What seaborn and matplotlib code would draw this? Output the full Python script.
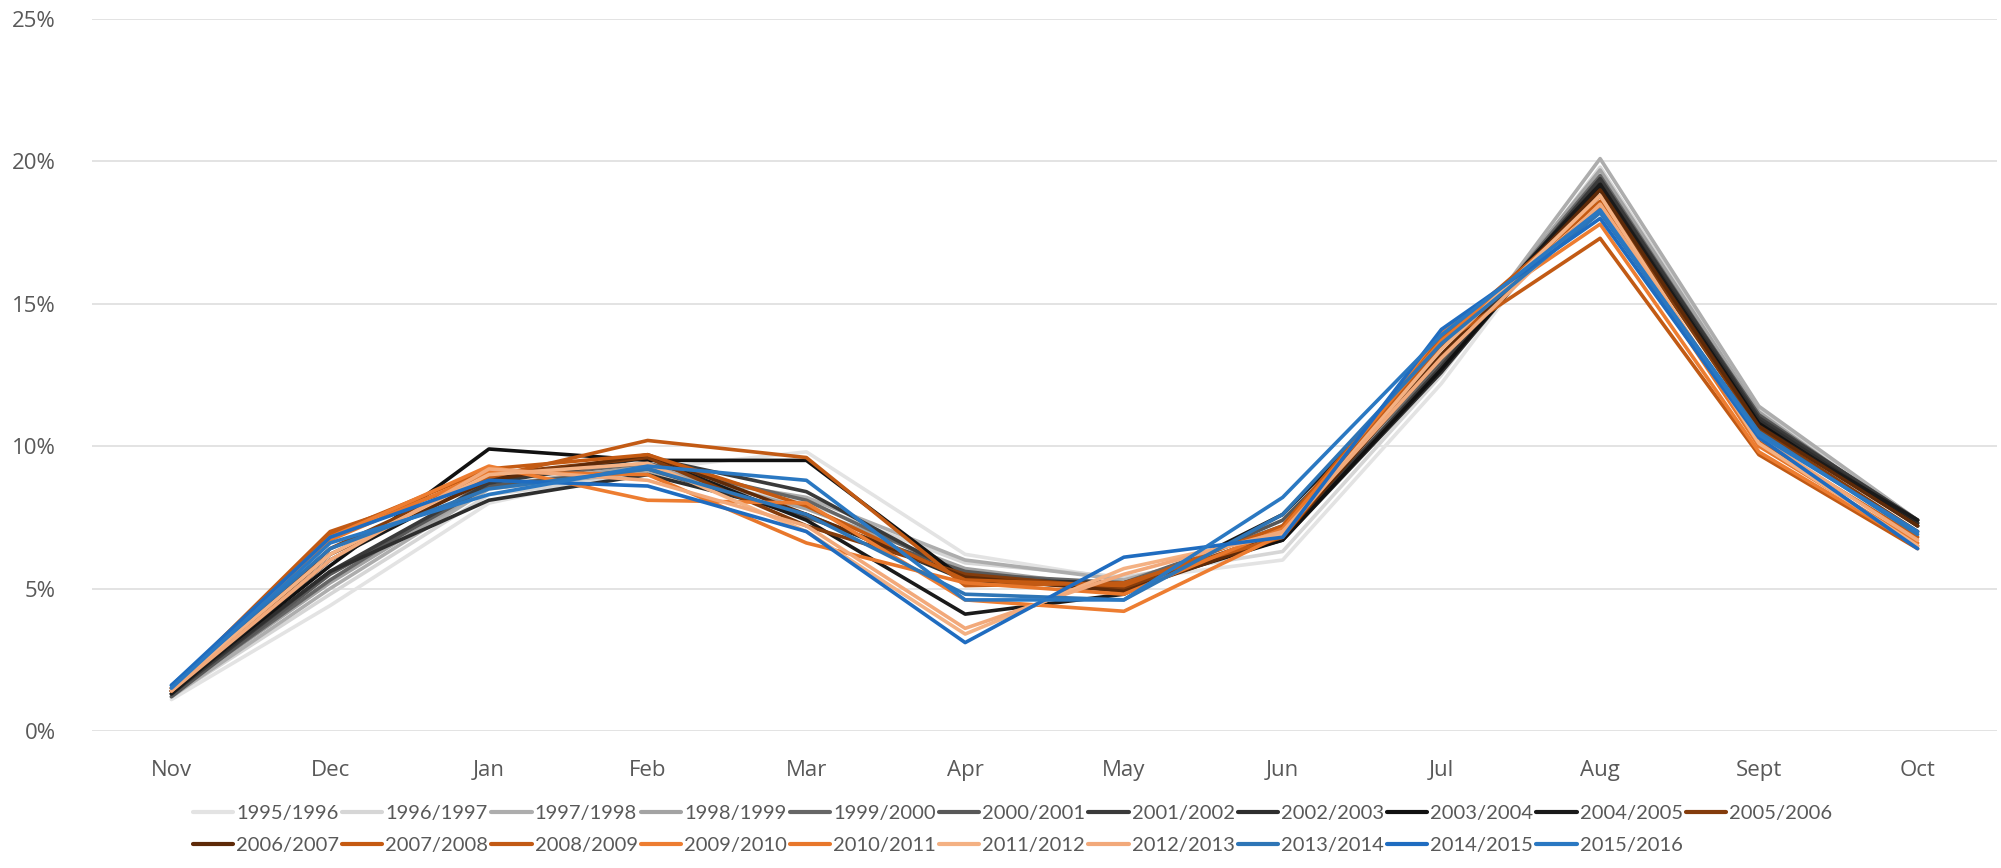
import matplotlib
matplotlib.use("Agg")
import matplotlib.pyplot as plt
import seaborn as sns
import pandas as pd
from matplotlib.ticker import FuncFormatter

months = ["Nov", "Dec", "Jan", "Feb", "Mar", "Apr", "May", "Jun", "Jul", "Aug", "Sept", "Oct"]

seasons = ["1995/1996", "1996/1997", "1997/1998", "1998/1999", "1999/2000", "2000/2001",
           "2001/2002", "2002/2003", "2003/2004", "2004/2005", "2005/2006", "2006/2007",
           "2007/2008", "2008/2009", "2009/2010", "2010/2011", "2011/2012", "2012/2013",
           "2013/2014", "2014/2015", "2015/2016"]

colors = ["#e3e3e3", "#d6d6d6", "#adadad", "#a3a3a3", "#666666", "#585858",
          "#3a3a3a", "#2e2e2e", "#111111", "#1a1a1a", "#843c0c", "#5e2a08",
          "#c55a11", "#c25a14", "#ed7d31", "#e8772b", "#f4b183", "#f2a97a",
          "#2e75b6", "#1f6cc0", "#2a78c2"]

# percent share per month (Nov..Oct)
s1995 = [1.1, 4.4, 8.0, 9.2, 9.8, 6.2, 5.3, 6.0, 12.2, 19.6, 11.2, 7.2]
s1996 = [1.2, 4.8, 8.3, 9.0, 8.0, 5.9, 5.4, 6.3, 12.5, 19.8, 11.3, 7.3]
s1997 = [1.2, 5.0, 8.5, 9.1, 8.2, 6.0, 5.3, 6.8, 12.6, 20.1, 11.4, 7.4]
s1998 = [1.3, 5.2, 8.6, 9.3, 7.8, 5.7, 5.0, 7.0, 12.8, 19.7, 11.2, 7.2]
s1999 = [1.3, 5.3, 8.8, 9.4, 8.1, 5.5, 5.2, 7.2, 12.9, 19.5, 11.0, 7.4]
s2000 = [1.2, 5.5, 8.6, 9.2, 7.5, 5.6, 5.0, 7.4, 13.0, 19.3, 11.1, 7.3]
s2001 = [1.3, 5.6, 8.7, 9.6, 8.4, 5.4, 5.1, 6.8, 12.8, 19.4, 11.0, 7.4]
s2002 = [1.4, 5.6, 8.1, 9.0, 7.6, 5.3, 5.2, 6.7, 12.6, 19.2, 10.9, 7.3]
s2003 = [1.4, 5.8, 9.9, 9.5, 9.5, 5.3, 5.0, 6.7, 12.7, 19.1, 10.8, 7.2]
s2004 = [1.3, 6.0, 8.9, 9.6, 7.4, 4.1, 4.8, 7.6, 13.2, 19.2, 10.7, 7.4]
s2005 = [1.4, 6.4, 9.0, 9.6, 7.2, 5.5, 5.0, 7.0, 13.5, 18.8, 10.6, 7.0]
s2006 = [1.4, 6.2, 8.8, 9.7, 7.6, 5.4, 4.9, 6.8, 13.2, 19.0, 10.7, 7.2]
s2007 = [1.5, 6.9, 9.2, 9.7, 7.9, 5.3, 5.1, 7.2, 13.8, 18.6, 10.2, 6.8]
s2008 = [1.5, 7.0, 8.9, 10.2, 9.6, 5.1, 5.2, 6.8, 13.6, 17.3, 9.7, 6.4]
s2009 = [1.5, 6.8, 9.3, 8.1, 8.0, 4.6, 4.2, 6.9, 14.0, 17.8, 9.8, 6.5]
s2010 = [1.4, 6.7, 9.1, 9.0, 6.6, 5.2, 4.8, 7.1, 13.7, 18.4, 10.0, 6.6]
s2011 = [1.5, 6.2, 9.0, 9.4, 7.0, 3.4, 5.7, 6.9, 13.4, 18.8, 10.1, 6.5]
s2012 = [1.4, 6.0, 9.2, 8.8, 7.2, 3.6, 5.5, 7.0, 13.1, 18.5, 10.3, 6.7]
s2013 = [1.6, 6.4, 8.5, 9.2, 7.6, 4.8, 4.6, 7.6, 13.6, 18.2, 10.5, 6.9]
s2014 = [1.6, 6.8, 8.8, 8.6, 7.0, 3.1, 6.1, 6.8, 14.1, 18.0, 10.3, 6.4]
s2015 = [1.5, 6.6, 8.3, 9.3, 8.8, 4.6, 4.6, 8.2, 13.9, 18.3, 10.4, 7.0]

series = [s1995, s1996, s1997, s1998, s1999, s2000, s2001, s2002, s2003, s2004, s2005,
          s2006, s2007, s2008, s2009, s2010, s2011, s2012, s2013, s2014, s2015]

rows = []
for season, vals in zip(seasons, series):
    for m, v in zip(months, vals):
        rows.append({"Month": m, "Season": season, "Share": v / 100.0})
df = pd.DataFrame(rows)

sns.set_theme(style="white")
plt.rcParams["font.family"] = ["Open Sans", "DejaVu Sans"]

fig = plt.figure(figsize=(20.01, 8.68), dpi=100)
ax = fig.add_axes([0.046, 0.158, 0.952, 0.820])

palette = dict(zip(seasons, colors))
sns.lineplot(data=df, x="Month", y="Share", hue="Season", hue_order=seasons,
             palette=palette, sort=False, linewidth=2.6, ax=ax, legend=True)

ax.set_ylim(0, 0.25)
ax.set_xlim(-0.5, 11.5)
ax.set_yticks([0, 0.05, 0.10, 0.15, 0.20, 0.25])
ax.yaxis.set_major_formatter(FuncFormatter(lambda v, p: f"{v*100:.0f}%"))
ax.grid(axis="y", color="#e0e0e0", linewidth=1.3)
ax.grid(axis="x", visible=False)
ax.set_axisbelow(True)
for sp in ax.spines.values():
    sp.set_visible(False)
ax.set_xlabel("")
ax.set_ylabel("")
ax.tick_params(axis="y", length=0, pad=26, labelsize=16, labelcolor="#595959")
ax.tick_params(axis="x", length=0, pad=21, labelsize=16, labelcolor="#595959")

handles, labels = ax.get_legend_handles_labels()
ax.get_legend().remove()
order = []
for i in range(10):
    order.append(i)
    order.append(i + 11)
order.append(10)
leg = fig.legend([handles[i] for i in order], [labels[i] for i in order],
                 loc="upper center", bbox_to_anchor=(0.506, 0.094), ncol=11,
                 frameon=False, handlelength=2.0, handletextpad=0.15,
                 columnspacing=0.15, labelspacing=0.75,
                 prop={"family": ["Lato", "DejaVu Sans"], "size": 14.5})
for t in leg.get_texts():
    t.set_color("#595959")
for h in leg.legend_handles:
    h.set_linewidth(3)

fig.savefig("out.png", dpi=100, facecolor="white")
